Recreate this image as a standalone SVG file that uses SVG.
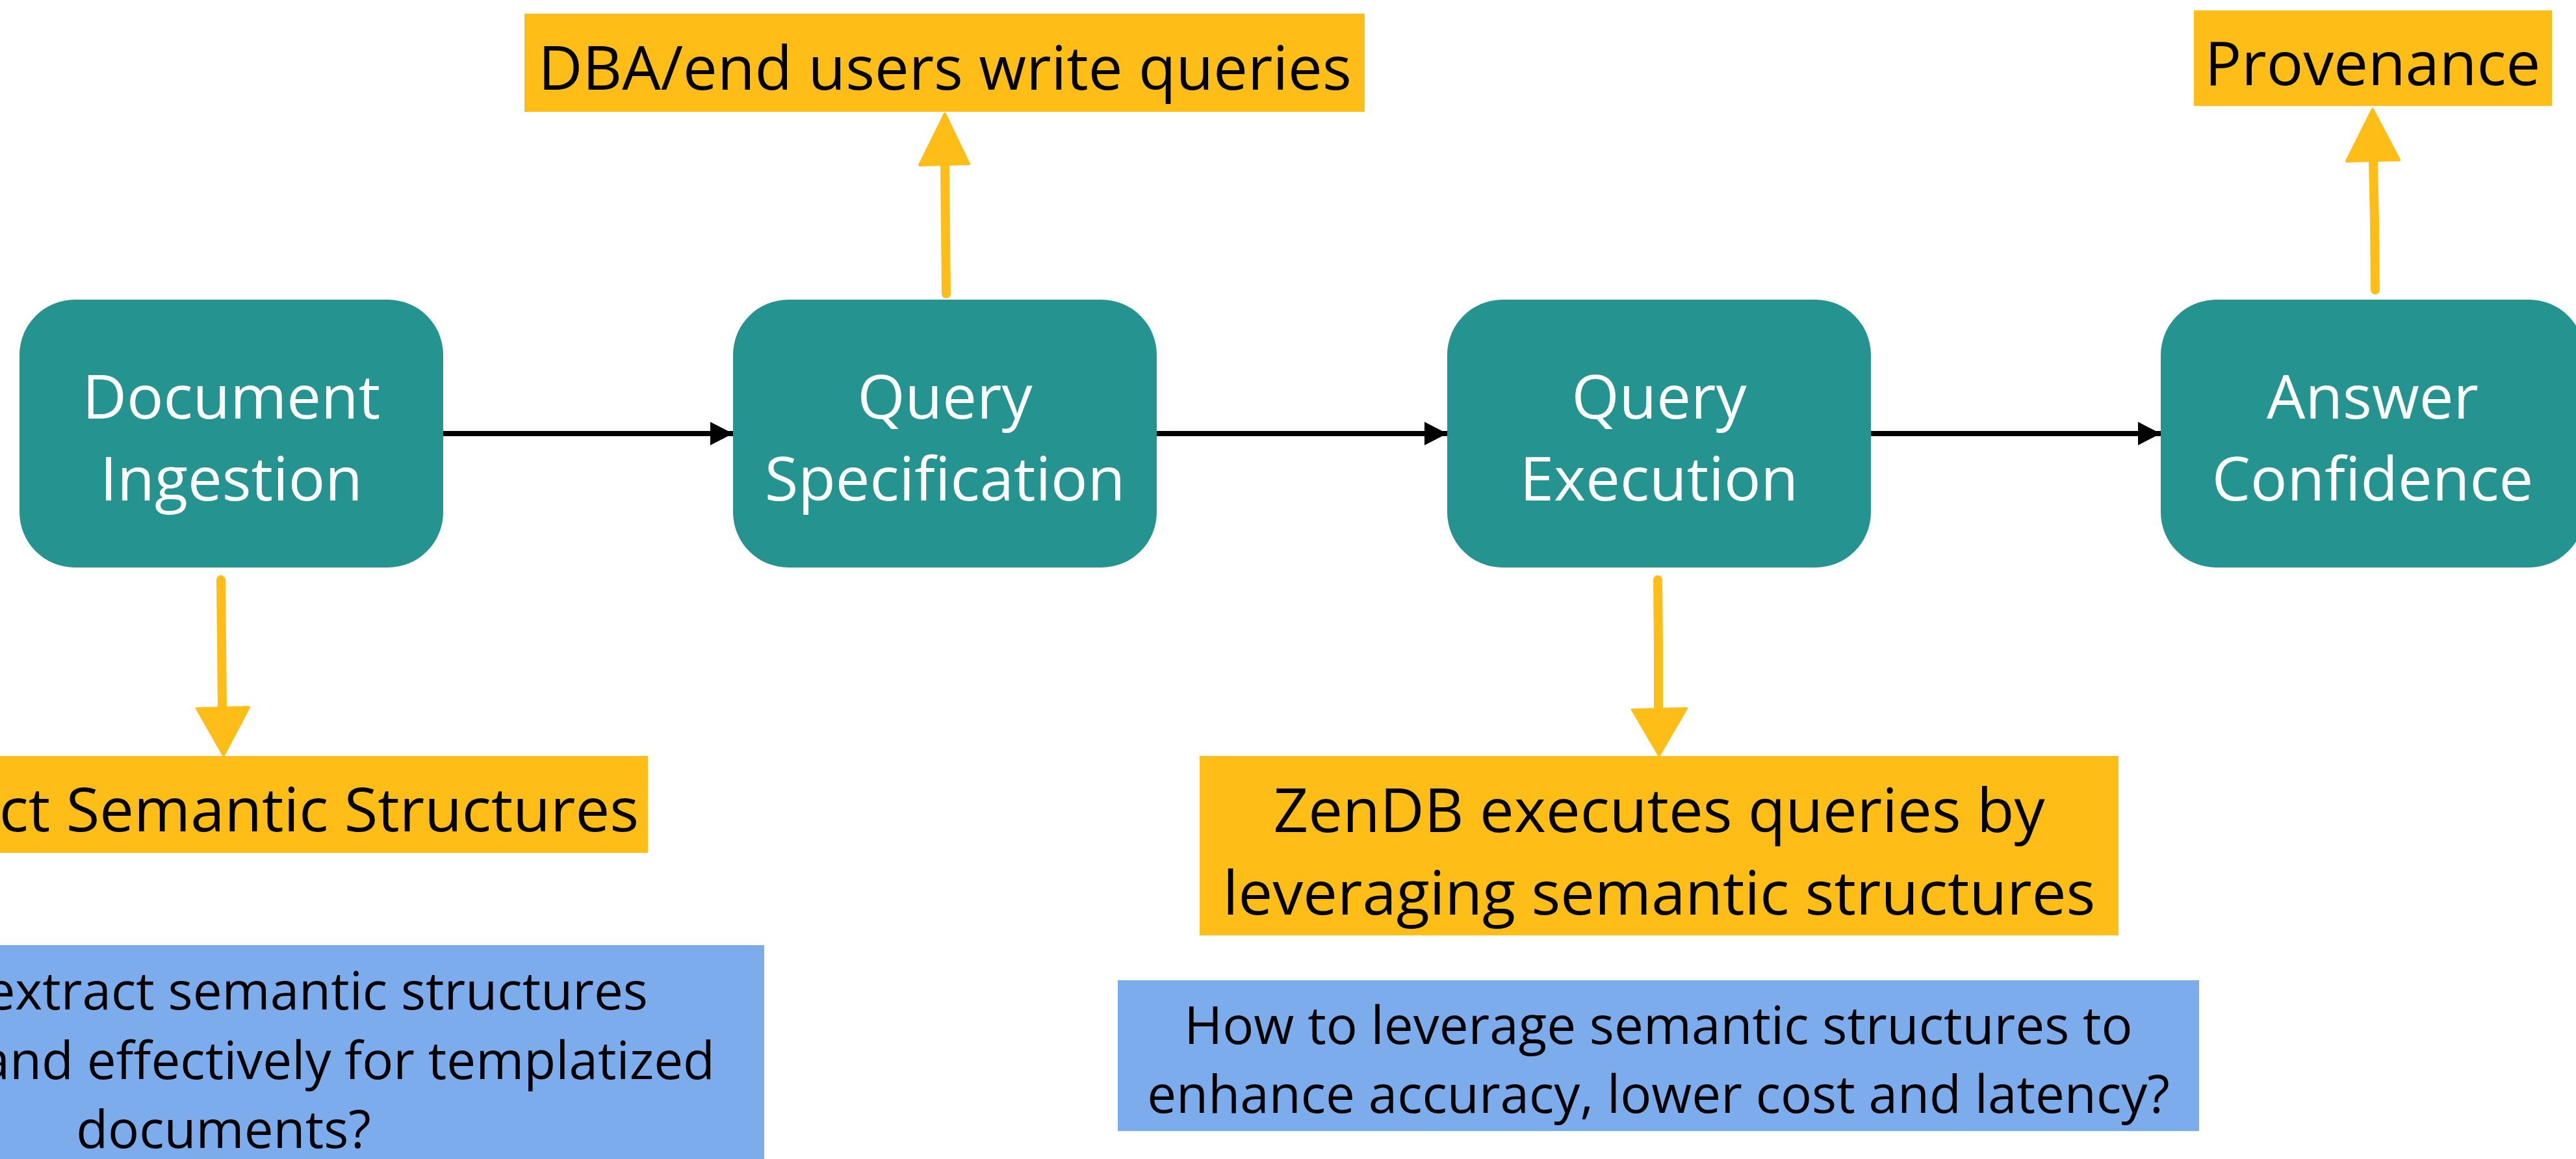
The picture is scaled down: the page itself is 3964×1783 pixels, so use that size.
<svg xmlns="http://www.w3.org/2000/svg" width="3964" height="1783" viewBox="0 0 3964 1783">
  <style>
    .stage { fill: #25938F; }
    .stage-text { fill: #FFFFFF; font-family: "Open Sans", "Liberation Sans", sans-serif; font-size: 94px; text-anchor: middle; }
    .note-y { fill: #FFBD18; }
    .note-b { fill: #7CACEC; }
    .note-text { fill: #000000; font-family: "Open Sans", "Liberation Sans", sans-serif; font-size: 94px; text-anchor: middle; }
    .q-text { fill: #000000; font-family: "Open Sans", "Liberation Sans", sans-serif; font-size: 80px; text-anchor: middle; }
    .flow { stroke: #000000; stroke-width: 8; fill: none; }
    .side-shaft { stroke: #FFBD18; stroke-width: 14; stroke-linecap: round; fill: none; }
    .side-head { fill: #FFBD18; stroke: #FFBD18; stroke-width: 4; stroke-linejoin: round; }
  </style>
  <defs>
    <marker id="flow-head" markerUnits="userSpaceOnUse" markerWidth="36" markerHeight="36" refX="35" refY="18" orient="auto">
      <path d="M0,0 L35,18 L0,36 Z" fill="#000000"/>
    </marker>
  </defs>

  <rect width="3964" height="1783" fill="#FFFFFF"/>

  <!-- pipeline stages -->
  <g id="doc-ingestion">
    <rect class="stage" x="30" y="461" width="652" height="412" rx="85" ry="85"/>
    <text class="stage-text" x="356" y="644">Document</text>
    <text class="stage-text" x="356" y="770">Ingestion</text>
  </g>
  <g id="query-spec">
    <rect class="stage" x="1128" y="461" width="652" height="412" rx="85" ry="85"/>
    <text class="stage-text" x="1454" y="644">Query</text>
    <text class="stage-text" x="1454" y="770">Specification</text>
  </g>
  <g id="query-exec">
    <rect class="stage" x="2227" y="461" width="652" height="412" rx="85" ry="85"/>
    <text class="stage-text" x="2553" y="644">Query</text>
    <text class="stage-text" x="2553" y="770">Execution</text>
  </g>
  <g id="answer-confidence">
    <rect class="stage" x="3325" y="461" width="652" height="412" rx="85" ry="85"/>
    <text class="stage-text" x="3651" y="644">Answer</text>
    <text class="stage-text" x="3651" y="770">Confidence</text>
  </g>

  <!-- yellow callouts -->
  <g id="dba-note">
    <rect class="note-y" x="807" y="21" width="1293" height="151"/>
    <text class="note-text" x="1454" y="138">DBA/end users write queries</text>
  </g>
  <g id="provenance-note">
    <rect class="note-y" x="3376" y="16" width="551" height="147"/>
    <text class="note-text" x="3651" y="131">Provenance</text>
  </g>
  <g id="extract-note">
    <rect class="note-y" x="-300" y="1163" width="1297" height="149"/>
    <text class="note-text" x="983" y="1279" style="text-anchor:end">ct Semantic Structures</text>
  </g>
  <g id="zendb-note">
    <rect class="note-y" x="1846" y="1163" width="1414" height="276"/>
    <text class="note-text" x="2553" y="1280">ZenDB executes queries by</text>
    <text class="note-text" x="2553" y="1407">leveraging semantic structures</text>
  </g>

  <!-- blue questions -->
  <g id="extract-question">
    <rect class="note-b" x="-500" y="1454" width="1676" height="340"/>
    <text class="q-text" x="997" y="1553" style="text-anchor:end">extract semantic structures</text>
    <text class="q-text" x="1100" y="1660" style="text-anchor:end">and effectively for templatized</text>
    <text class="q-text" x="344" y="1766">documents?</text>
  </g>
  <g id="leverage-question">
    <rect class="note-b" x="1720" y="1508" width="1664" height="232"/>
    <text class="q-text" x="2552" y="1606">How to leverage semantic structures to</text>
    <text class="q-text" x="2552" y="1712">enhance accuracy, lower cost and latency?</text>
  </g>

  <!-- connectors -->
  <g id="connectors">
    <line class="flow" x1="682" y1="667" x2="1128" y2="667" marker-end="url(#flow-head)"/>
    <line class="flow" x1="1780" y1="667" x2="2227" y2="667" marker-end="url(#flow-head)"/>
    <line class="flow" x1="2879" y1="667" x2="3325" y2="667" marker-end="url(#flow-head)"/>

    <!-- Query Specification up to DBA note -->
    <path class="side-shaft" d="M1456,452 L1455,350 L1454,256"/>
    <polygon class="side-head" points="1454,175 1491,252 1415,254"/>

    <!-- Answer Confidence up to Provenance -->
    <path class="side-shaft" d="M3655,446 L3654,340 L3652,250"/>
    <polygon class="side-head" points="3651,168 3692,246 3611,248"/>

    <!-- Document Ingestion down to extraction note -->
    <path class="side-shaft" d="M340,892 L341,990 L342,1090"/>
    <polygon class="side-head" points="303,1090 383,1088 344,1162"/>

    <!-- Query Execution down to ZenDB note -->
    <path class="side-shaft" d="M2551,892 L2552,990 L2552,1090"/>
    <polygon class="side-head" points="2512,1092 2595,1090 2553,1162"/>
  </g>
</svg>
